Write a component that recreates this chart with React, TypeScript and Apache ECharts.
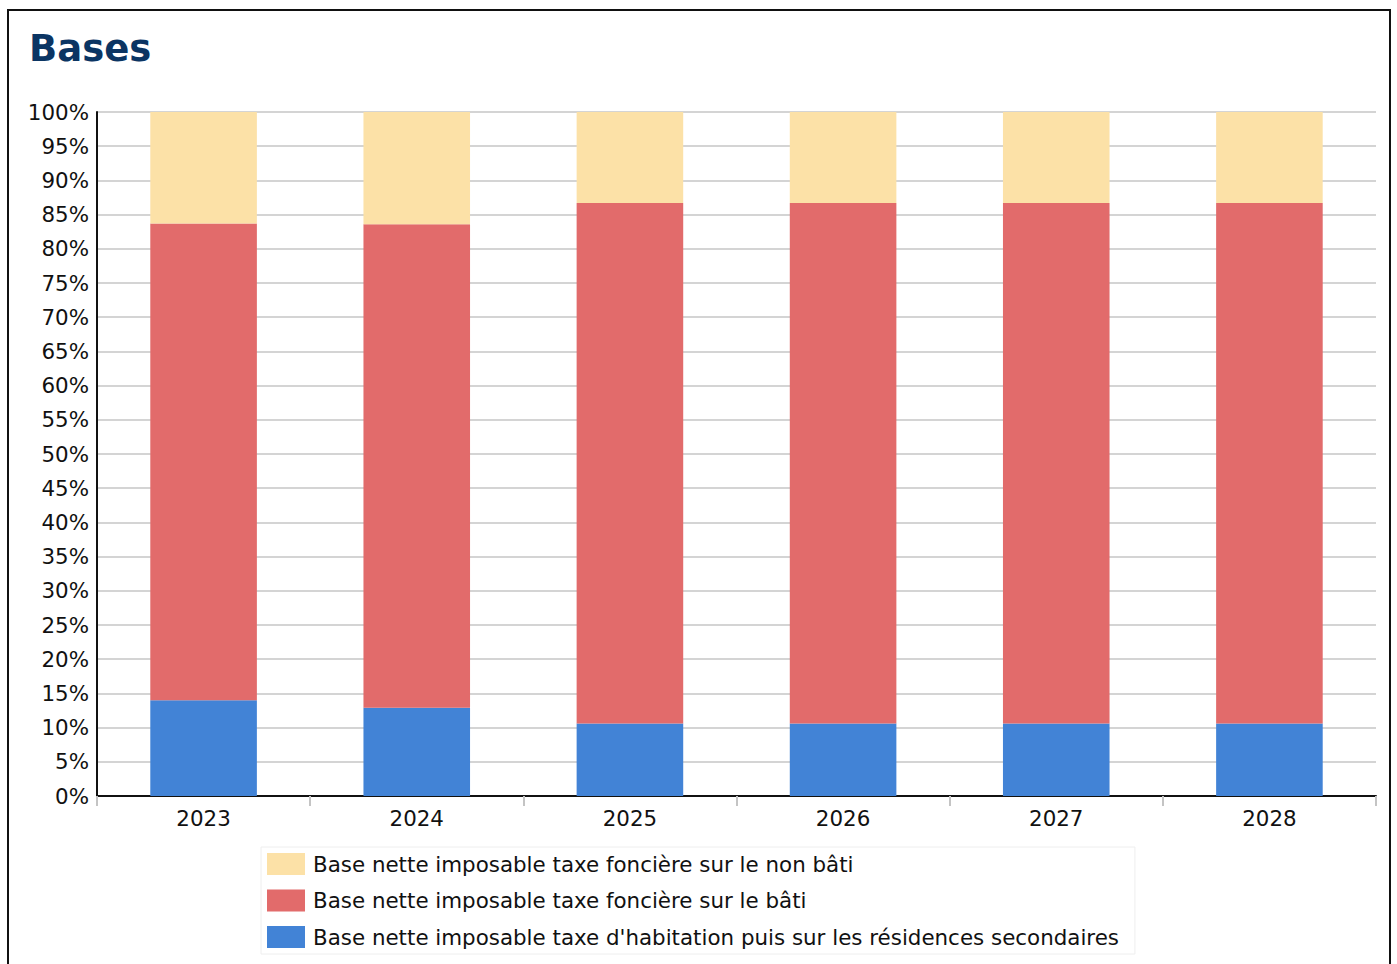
import React, { useEffect, useRef } from "react";
import * as echarts from "echarts";

const years = ["2023", "2024", "2025", "2026", "2027", "2028"];

const seriesNames = [
  "Base nette imposable taxe d'habitation puis sur les résidences secondaires",
  "Base nette imposable taxe foncière sur le bâti",
  "Base nette imposable taxe foncière sur le non bâti",
];

// Shares of each base, in percent of the yearly total
const habitation = [14.0, 12.9, 10.6, 10.6, 10.6, 10.6];
const fonciereBati = [69.7, 70.7, 76.1, 76.1, 76.1, 76.1];
const fonciereNonBati = [16.3, 16.4, 13.3, 13.3, 13.3, 13.3];

const colors = ["#4283d6", "#e26b6b", "#fce1a7"];

const FONT = "DejaVu Sans";
const TEXT_SIZE = 21.4;

export default function App() {
  const ref = useRef<HTMLDivElement>(null);

  useEffect(() => {
    if (!ref.current) return;
    const chart = echarts.init(ref.current, undefined, { renderer: "svg" });
    const values = [habitation, fonciereBati, fonciereNonBati];
    chart.setOption({
      animation: false,
      backgroundColor: "#ffffff",
      textStyle: { fontFamily: FONT },
      title: {
        text: "Bases",
        left: 24,
        top: 25,
        textStyle: {
          fontFamily: FONT,
          fontSize: 37,
          fontWeight: "bold",
          color: "#0b3563",
        },
      },
      graphic: [
        {
          type: "rect",
          shape: { x: 8, y: 10, width: 1382, height: 1000 },
          style: { fill: "none", stroke: "#111111", lineWidth: 2 },
          silent: true,
        },
      ],
      legend: {
        orient: "vertical",
        left: 261,
        top: 847,
        padding: [6, 16, 6, 6],
        itemGap: 14.5,
        itemWidth: 38,
        itemHeight: 22,
        borderColor: "#eeeeee",
        borderWidth: 1,
        icon: "rect",
        data: [seriesNames[2], seriesNames[1], seriesNames[0]],
        textStyle: {
          fontFamily: FONT,
          fontSize: TEXT_SIZE,
          color: "#111111",
          lineHeight: 22,
          padding: [0, 0, 0, 3],
        },
      },
      grid: { left: 97, right: 21, top: 112, bottom: 168, containLabel: false },
      xAxis: {
        type: "category",
        data: years,
        axisLine: { lineStyle: { color: "#111111", width: 2 } },
        axisTick: { show: true, length: 10, lineStyle: { color: "#c4c4c4", width: 2 } },
        axisLabel: { fontFamily: FONT, fontSize: TEXT_SIZE, color: "#111111", margin: 12 },
      },
      yAxis: {
        type: "value",
        min: 0,
        max: 100,
        interval: 5,
        axisLine: { show: true, lineStyle: { color: "#111111", width: 2 } },
        axisTick: { show: false },
        axisLabel: {
          fontFamily: FONT,
          fontSize: TEXT_SIZE,
          color: "#111111",
          margin: 8,
          formatter: "{value}%",
        },
        splitLine: { lineStyle: { color: "#c6c6c6", width: 1.5 } },
      },
      series: seriesNames.map((name, i) => ({
        name,
        type: "bar",
        stack: "bases",
        barWidth: "50%",
        itemStyle: { color: colors[i] },
        data: values[i],
      })),
    });
    return () => chart.dispose();
  }, []);

  return (
    <div
      ref={ref}
      style={{ position: "absolute", left: 0, top: 0, width: 1397, height: 964 }}
    />
  );
}
